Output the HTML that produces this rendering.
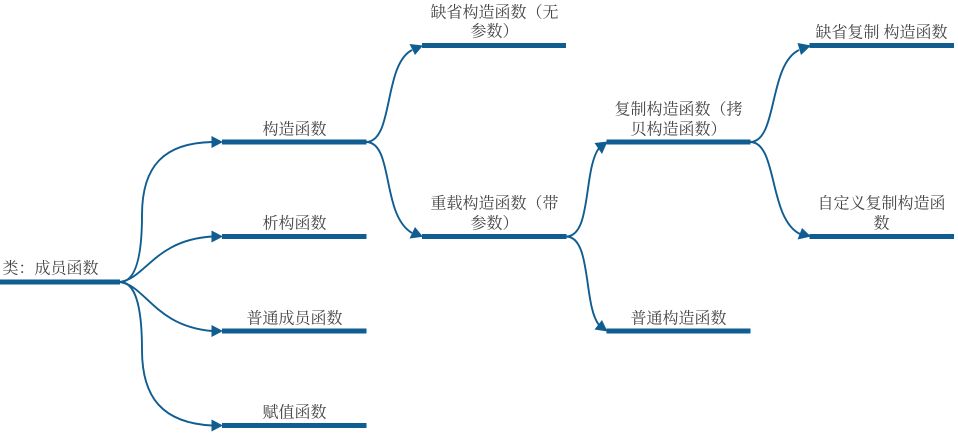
<!DOCTYPE html>
<html><head><meta charset="utf-8"><style>
html,body{margin:0;padding:0;background:#fff;width:958px;height:433px;overflow:hidden}
svg{display:block}
text{font-family:"Noto Serif CJK SC","Liberation Serif",serif;font-size:16px;fill:#444;text-anchor:middle}
.b{fill:#0f5d91}
.c{fill:none;stroke:#0f5d91;stroke-width:1.9}
</style></head><body>
<svg width="958" height="433" viewBox="0 0 958 433" xmlns="http://www.w3.org/2000/svg">
<rect class="b" x="0" y="279.500" width="120" height="5"/>
<rect class="b" x="222" y="139.500" width="144.500" height="5"/>
<rect class="b" x="222" y="234" width="144.500" height="5"/>
<rect class="b" x="222" y="328.500" width="144.500" height="5"/>
<rect class="b" x="222" y="423" width="144.500" height="5"/>
<rect class="b" x="422" y="43" width="144" height="5"/>
<rect class="b" x="422" y="234" width="144.500" height="5"/>
<rect class="b" x="606.500" y="139.500" width="144" height="5"/>
<rect class="b" x="606.500" y="328.500" width="144" height="5"/>
<rect class="b" x="809.500" y="43" width="144.500" height="5"/>
<rect class="b" x="809.500" y="234" width="144.500" height="5"/>

<path class="c" d="M120 282C134 282 142 262 142 215C142 165 165 143 212 142"/>
<path class="c" d="M120 282C146 278 155 240 212 236.500"/>
<path class="c" d="M120 282C146 286 155 326 212 331"/>
<path class="c" d="M120 282C134 282 142 302 142 350C142 398 163 423 212 425.500"/>
<path class="c" d="M366 142C394 142 383 65 412 50"/>
<path class="c" d="M366 142C394 142 381 215 412 233"/>
<path class="c" d="M566 236.500C592 236.500 583 170 599 148"/>
<path class="c" d="M566 236.500C592 236.500 583 305 599 325"/>
<path class="c" d="M750 142C778 142 768 65 799 50"/>
<path class="c" d="M750 142C778 142 768 218 800 234"/>

<polygon class="b" points="223,142 211.500,136 211.500,148"/>
<polygon class="b" points="223,236.500 211.500,230.500 211.500,242.500"/>
<polygon class="b" points="223,331 211.500,325 211.500,337"/>
<polygon class="b" points="223,425.500 211.500,419.500 211.500,431.500"/>
<polygon class="b" points="423,45.500 409.500,44 415,55"/>
<polygon class="b" points="423,236.700 409.500,238.500 415,227"/>
<polygon class="b" points="607.500,141.500 594.500,143 602,154"/>
<polygon class="b" points="607.500,331.500 594.500,329.500 602,320"/>
<polygon class="b" points="811,45.500 797.500,43 801,55"/>
<polygon class="b" points="811,236.500 797.500,239.500 802,228"/>

<text x="50.500" y="273.500">类：成员函数</text>
<text x="294.500" y="134.500">构造函数</text>
<text x="294.500" y="228.500">析构函数</text>
<text x="294.500" y="323.500">普通成员函数</text>
<text x="294.500" y="417.500">赋值函数</text>
<text x="494.500" y="17.500">缺省构造函数（无</text>
<text x="494.500" y="36.500">参数）</text>
<text x="494.500" y="208.500">重载构造函数（带</text>
<text x="494.500" y="228.500">参数）</text>
<text x="678.500" y="114.500">复制构造函数（拷</text>
<text x="678.500" y="134.500">贝构造函数）</text>
<text x="678.500" y="323.500">普通构造函数</text>
<text x="881.500" y="37.500">缺省复制 构造函数</text>
<text x="881.500" y="208.500">自定义复制构造函</text>
<text x="881.500" y="228.500">数</text>
</svg>
</body></html>
